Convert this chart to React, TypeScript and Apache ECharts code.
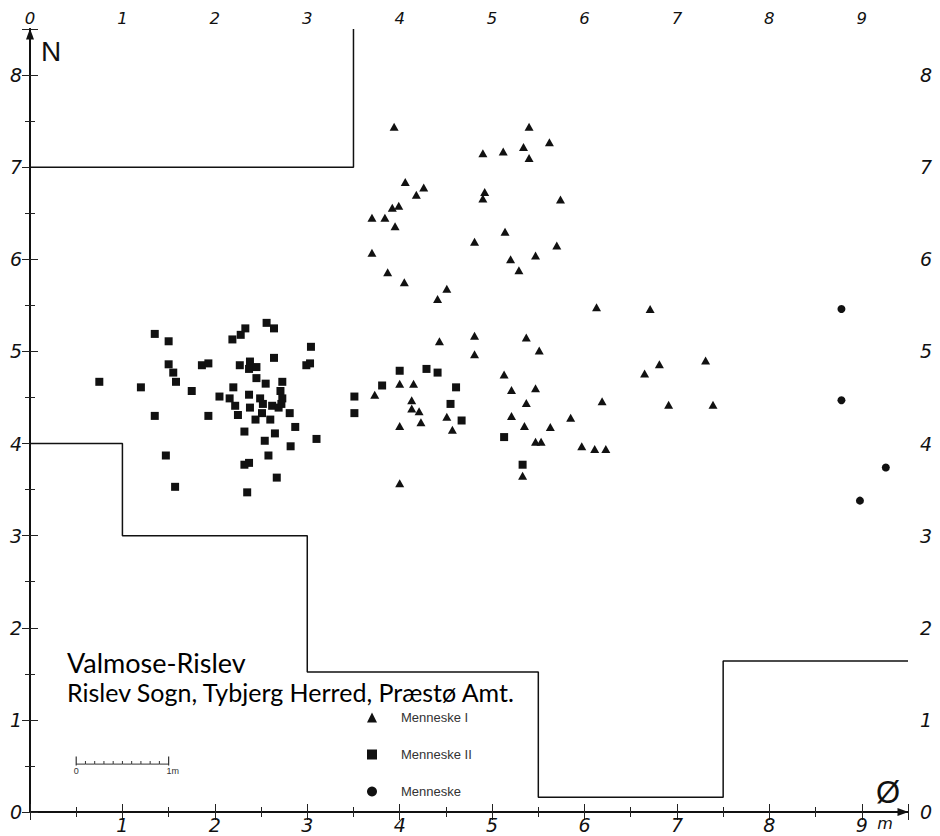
import React, { useEffect, useRef } from "react";
import * as echarts from "echarts";

// ---- data (metres, east / north) ----
const menneskeI: number[][] = [
  [3.94, 7.44], [5.40, 7.44], [5.62, 7.27], [5.34, 7.22], [5.12, 7.17], [4.90, 7.15], [5.40, 7.10],
  [4.06, 6.84], [4.26, 6.78], [4.18, 6.70], [4.92, 6.73], [4.90, 6.66], [5.74, 6.65], [3.99, 6.58],
  [3.92, 6.56], [3.70, 6.45], [3.84, 6.45], [3.95, 6.36], [5.14, 6.30], [4.81, 6.19], [5.70, 6.15],
  [5.47, 6.04], [3.70, 6.07], [5.20, 6.00], [5.29, 5.88], [3.87, 5.86], [4.05, 5.75], [4.51, 5.68],
  [4.41, 5.57],
  [4.43, 5.11], [4.81, 5.17], [5.37, 5.15], [5.51, 5.01], [4.81, 4.97], [5.13, 4.75], [4.00, 4.65],
  [4.15, 4.65], [3.73, 4.53], [5.21, 4.58], [5.47, 4.60], [4.13, 4.47], [5.37, 4.44], [4.13, 4.38],
  [4.21, 4.35], [4.51, 4.29], [5.21, 4.30], [5.85, 4.28], [4.23, 4.23], [4.00, 4.19], [4.57, 4.15],
  [5.35, 4.19], [5.63, 4.18], [5.47, 4.02], [5.53, 4.02], [5.33, 3.65], [4.00, 3.57],
  [6.13, 5.48], [6.71, 5.46], [6.81, 4.86], [7.31, 4.90], [6.65, 4.76], [6.19, 4.46], [6.91, 4.42],
  [7.39, 4.42], [5.97, 3.97], [6.11, 3.94], [6.23, 3.94],
];

const menneskeII: number[][] = [
  [1.35, 5.19], [1.50, 5.11], [2.33, 5.25], [2.28, 5.18], [2.19, 5.13], [2.56, 5.31], [2.64, 5.25],
  [3.04, 5.05], [2.64, 4.93], [1.50, 4.86], [1.55, 4.77], [1.58, 4.67], [0.75, 4.67], [1.20, 4.61],
  [1.75, 4.57], [1.86, 4.85], [1.93, 4.87], [2.27, 4.85], [2.38, 4.89], [2.37, 4.81], [2.45, 4.83],
  [2.99, 4.85], [3.03, 4.87], [2.45, 4.71], [2.55, 4.65], [2.73, 4.67], [2.20, 4.61], [2.05, 4.51],
  [2.16, 4.49], [2.37, 4.53], [2.49, 4.49], [2.71, 4.57], [2.73, 4.49], [2.22, 4.41], [2.38, 4.39],
  [2.52, 4.43], [2.62, 4.41], [2.69, 4.39], [2.72, 4.43], [2.81, 4.33], [2.51, 4.33], [1.35, 4.30],
  [1.93, 4.30], [2.25, 4.31], [2.44, 4.26], [2.60, 4.26], [2.87, 4.18], [2.32, 4.13], [2.65, 4.11],
  [2.54, 4.03], [3.10, 4.05], [2.82, 3.97], [1.47, 3.87], [2.58, 3.87], [2.37, 3.79], [2.32, 3.77],
  [2.67, 3.63], [1.57, 3.53], [2.35, 3.47],
  [3.51, 4.51], [3.51, 4.33], [3.81, 4.63], [4.00, 4.79], [4.29, 4.81], [4.41, 4.77], [4.61, 4.61],
  [4.55, 4.43], [4.67, 4.25], [5.13, 4.07], [5.33, 3.77],
];

const menneske: number[][] = [
  [8.78, 5.46], [8.78, 4.47], [9.26, 3.74], [8.98, 3.38],
];

// excavation outline
const outlineTopX = [0, 3.5, 3.5];
const outlineTopY = [7, 7, 8.5];
const outlineBottomX = [0, 1, 1, 3, 3, 5.5, 5.5, 7.5, 7.5, 9.5];
const outlineBottomY = [4, 4, 3, 3, 1.52, 1.52, 0.16, 0.16, 1.64, 1.64];

// scale bar (1 m, divided in tenths)
const scaleBarX = [0.5, 0.6, 0.7, 0.8, 0.9, 1.0, 1.1, 1.2, 1.3, 1.4, 1.5];
const scaleBarY = 0.52;

const xTickLabels = ["0", "1", "2", "3", "4", "5", "6", "7", "8", "9"];
const yTickLabels = ["0", "1", "2", "3", "4", "5", "6", "7", "8"];

const X_MAX = 9.5;
const Y_MAX = 8.5;

const INK = "#111";
const labelFont = {
  fontFamily: "DejaVu Sans",
  fontStyle: "italic" as const,
  fontWeight: 200 as any,
  fontSize: 19,
  color: "#111",
};

function intLabel(list: string[], skipZero = false) {
  return (v: number) => {
    if (!Number.isInteger(v)) return "";
    if (skipZero && v === 0) return "";
    return list[v] ?? "";
  };
}

export default function App() {
  const ref = useRef<HTMLDivElement>(null);

  useEffect(() => {
    if (!ref.current) return;
    const chart = echarts.init(ref.current, undefined, { renderer: "svg" });

    const axisLineBase = { show: true, lineStyle: { color: INK, width: 2 } };
    const minorTicks = { inside: true, length: 5, lineStyle: { color: "#222", width: 1 } };
    const majorTicks = { inside: true, length: 8, lineStyle: { color: "#222", width: 1 } };

    const xAxes: any[] = [
      {
        type: "value", position: "bottom", min: 0, max: X_MAX, interval: 0.5,
        axisLine: { ...axisLineBase, symbol: ["none", "triangle"], symbolSize: [8, 11], symbolOffset: [0, -5] },
        axisTick: minorTicks, axisLabel: { show: false }, splitLine: { show: false },
      },
      {
        type: "value", position: "bottom", min: 0, max: X_MAX, interval: 1,
        axisLine: { show: false }, axisTick: majorTicks,
        axisLabel: { ...labelFont, interval: 0, margin: 3, formatter: intLabel(xTickLabels, true) },
        splitLine: { show: false },
      },
      {
        type: "value", position: "top", min: 0, max: X_MAX, interval: 0.5,
        axisLine: axisLineBase, axisTick: minorTicks,
        axisLabel: { show: false }, splitLine: { show: false },
      },
      {
        type: "value", position: "top", min: 0, max: X_MAX, interval: 1,
        axisLine: { show: false }, axisTick: majorTicks,
        axisLabel: { ...labelFont, fontSize: 16.5, interval: 0, margin: 2, formatter: intLabel(xTickLabels) },
        splitLine: { show: false },
      },
    ];

    const yAxes: any[] = [
      {
        type: "value", position: "left", min: 0, max: Y_MAX, interval: 0.5,
        axisLine: { ...axisLineBase, symbol: ["none", "triangle"], symbolSize: [8, 11], symbolOffset: [0, -5] },
        axisTick: minorTicks, axisLabel: { show: false }, splitLine: { show: false },
      },
      {
        type: "value", position: "left", min: 0, max: Y_MAX, interval: 1,
        axisLine: { show: false }, axisTick: majorTicks,
        axisLabel: { ...labelFont, interval: 0, margin: 8, formatter: intLabel(yTickLabels) },
        splitLine: { show: false },
      },
      {
        type: "value", position: "right", min: 0, max: Y_MAX, interval: 0.5,
        axisLine: axisLineBase, axisTick: minorTicks,
        axisLabel: { show: false }, splitLine: { show: false },
      },
      {
        type: "value", position: "right", min: 0, max: Y_MAX, interval: 1,
        axisLine: { show: false }, axisTick: majorTicks,
        axisLabel: { ...labelFont, interval: 0, margin: 12, formatter: intLabel(yTickLabels) },
        splitLine: { show: false },
      },
    ];

    const zip = (xs: number[], ys: number[]) => xs.map((x, i) => [x, ys[i]]);

    const lastIdx = scaleBarX.length - 1;
    const scaleData = scaleBarX.map((x, i) => {
      const end = i === 0 || i === lastIdx;
      const item: any = {
        value: [x, scaleBarY],
        symbolSize: end ? [1.2, 9] : [1, 3],
        symbolOffset: end ? [0, -3] : [0, -1.5],
      };
      if (i === 0) item.label = { show: true, formatter: "0" };
      if (i === lastIdx) item.label = { show: true, formatter: "1m", offset: [4, 0] };
      return item;
    });

    chart.setOption({
      animation: false,
      backgroundColor: "#fff",
      grid: { left: 30, right: 32, top: 29, bottom: 24 },
      xAxis: xAxes,
      yAxis: yAxes,
      legend: {
        data: ["Menneske I", "Menneske II", "Menneske"],
        orient: "vertical",
        left: 362,
        top: 706,
        itemWidth: 10,
        itemHeight: 10,
        itemGap: 24,
        selectedMode: false,
        textStyle: {
          fontFamily: "Liberation Sans",
          fontSize: 13,
          color: "#333",
          padding: [0, 0, 0, 19],
        },
      },
      series: [
        {
          type: "line", name: "outlineTop", data: zip(outlineTopX, outlineTopY),
          showSymbol: false, symbol: "none", silent: true,
          lineStyle: { color: INK, width: 1.5 },
        },
        {
          type: "line", name: "outlineBottom", data: zip(outlineBottomX, outlineBottomY),
          showSymbol: false, symbol: "none", silent: true,
          lineStyle: { color: INK, width: 1.5 },
        },
        {
          type: "line", name: "scale", data: scaleData,
          symbol: "rect", showSymbol: true, silent: true,
          itemStyle: { color: "#333" },
          lineStyle: { color: "#333", width: 1 },
          label: { show: false, position: "bottom", distance: 1, fontSize: 9, color: "#333", fontFamily: "Liberation Sans" },
        },
        {
          type: "scatter", name: "Menneske I", data: menneskeI,
          symbol: "triangle", symbolSize: [9, 8], itemStyle: { color: INK, opacity: 1 },
        },
        {
          type: "scatter", name: "Menneske II", data: menneskeII,
          symbol: "rect", symbolSize: 8, itemStyle: { color: INK, opacity: 1 },
        },
        {
          type: "scatter", name: "Menneske", data: menneske,
          symbol: "circle", symbolSize: 8, itemStyle: { color: INK, opacity: 1 },
        },
      ],
      graphic: [
        {
          type: "text", x: 51, y: 51, silent: true,
          style: { text: "N", align: "center", verticalAlign: "middle", fontFamily: "Liberation Sans", fontSize: 28, fill: INK },
        },
        {
          type: "text", x: 888, y: 792, silent: true,
          style: { text: "Ø", align: "center", verticalAlign: "middle", fontFamily: "Liberation Sans", fontSize: 31, fill: INK },
        },
        {
          type: "text", x: 885, y: 823, silent: true,
          style: { text: "m", align: "center", verticalAlign: "middle", fontFamily: "DejaVu Sans", fontStyle: "italic", fontWeight: 200, fontSize: 16, fill: "#111" },
        },
        {
          type: "text", x: 67, y: 662, silent: true,
          style: { text: "Valmose-Rislev", align: "left", verticalAlign: "middle", fontFamily: "Lato", fontWeight: 400, fontSize: 27, fill: "#000" },
        },
        {
          type: "text", x: 67, y: 692, silent: true,
          style: { text: "Rislev Sogn, Tybjerg Herred, Præstø Amt.", align: "left", verticalAlign: "middle", fontFamily: "Lato", fontWeight: 400, fontSize: 25, fill: "#000" },
        },
      ],
    });

    return () => chart.dispose();
  }, []);

  return (
    <div
      ref={ref}
      style={{ position: "absolute", left: 0, top: 0, width: 940, height: 836, background: "#fff" }}
    />
  );
}
